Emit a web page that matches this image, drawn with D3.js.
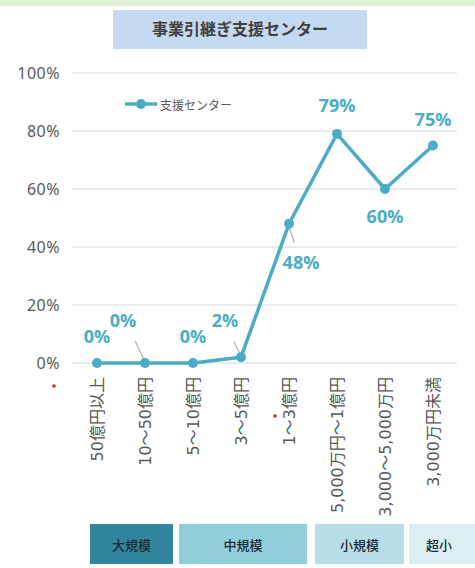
<!DOCTYPE html>
<html>
<head>
<meta charset="utf-8">
<script src="https://cdn.jsdelivr.net/npm/d3@7"></script>
<style>
  body { margin: 0; background: #fff; }
  svg { display: block; font-family: "Noto Sans CJK JP", "Noto Sans", sans-serif; }
</style>
</head>
<body>
<div id="chart"></div>
<script>
// data
let categories = ["50億円以上", "10～50億円", "5～10億円", "3～5億円", "1～3億円",
                  "5,000万円～1億円", "3,000～5,000万円", "3,000万円未満"];
let values = [0, 0, 0, 0.02, 0.48, 0.79, 0.60, 0.75];
let yTicks = [0, 0.2, 0.4, 0.6, 0.8, 1.0];
let seriesName = "支援センター";
let chartTitle = "事業引継ぎ支援センター";

// size groups under the axis
let groups = ["大規模", "中規模", "小規模", "超小"];
let groupColors = ["#31859c", "#92cddc", "#b7dee8", "#daeef3"];

// where each data label sits relative to its point, and whether it gets a leader line
let labelOffset = [
  {dx: 0, dy: -20, leader: false},
  {dx: -22, dy: -36, leader: true},
  {dx: 0, dy: -20, leader: false},
  {dx: -16, dy: -30, leader: true},
  {dx: 12, dy: 45, leader: true},
  {dx: 0, dy: -22, leader: false},
  {dx: 0, dy: 34, leader: false},
  {dx: 0, dy: -20, leader: false}
];

let width = 475,
    height = 568,
    lineColor = "#4bacc6",
    textGray = "#595959";

let svg = d3.select("#chart")
  .append("svg")
  .attr("width", width)
  .attr("height", height);

// light green strip at the very top
svg.append("rect")
  .attr("x", 0).attr("y", 0)
  .attr("width", width).attr("height", 6)
  .attr("fill", "#e2efda");

// title box
svg.append("rect")
  .attr("x", 113).attr("y", 10)
  .attr("width", 254).attr("height", 39)
  .attr("fill", "#c5d9f1");
svg.append("text")
  .attr("x", 240).attr("y", 35)
  .attr("text-anchor", "middle")
  .attr("font-size", 16)
  .attr("font-weight", "bold")
  .attr("fill", "#404040")
  .text(chartTitle);

let x = d3.scalePoint()
  .domain(categories)
  .range([73, 457])
  .padding(0.5);

let y = d3.scaleLinear()
  .domain([0, 1])
  .range([363, 73]);

// gridlines
svg.append("g")
  .selectAll("line")
  .data(yTicks)
  .join("line")
    .attr("x1", 72).attr("x2", 457)
    .attr("y1", d => y(d)).attr("y2", d => y(d))
    .attr("stroke", "#d9d9d9")
    .attr("stroke-width", 1);

// y axis labels
let yAxis = svg.append("g")
  .attr("transform", "translate(60,0)")
  .call(d3.axisLeft(y).tickValues(yTicks).tickFormat(d3.format(".0%")).tickSize(0).tickPadding(0));
yAxis.select(".domain").remove();
yAxis.selectAll("text")
  .attr("font-size", 16)
  .attr("letter-spacing", 0.5)
  .attr("fill", textGray)
  .attr("font-family", "'Noto Sans', sans-serif");

// x axis labels, vertical (DejaVu for the wide digits, CJK falls back)
let xAxis = svg.append("g")
  .attr("transform", "translate(0,377)")
  .call(d3.axisBottom(x).tickSize(0).tickPadding(0));
xAxis.select(".domain").remove();
xAxis.selectAll("text")
  .attr("font-size", 16)
  .attr("fill", textGray)
  .attr("font-family", "'DejaVu Sans', 'Noto Sans CJK JP', sans-serif")
  .attr("text-anchor", "end")
  .attr("dy", null)
  .attr("y", 0)
  .attr("transform", "rotate(-90)")
  .attr("dominant-baseline", "central");

// leader lines
let pts = categories.map((c, i) => ({c, v: values[i], o: labelOffset[i]}));

svg.append("g")
  .selectAll("line")
  .data(pts.filter(d => d.o.leader))
  .join("line")
    .attr("x1", d => x(d.c) - Math.sign(d.o.dx) * 2)
    .attr("y1", d => y(d.v) - Math.sign(d.o.dy) * 3)
    .attr("x2", d => x(d.c) + d.o.dx * 0.45)
    .attr("y2", d => y(d.v) + (d.o.dy > 0 ? d.o.dy - 26 : d.o.dy + 14))
    .attr("stroke", "#b0b0b0")
    .attr("stroke-width", 1.2);

// series line
let line = d3.line()
  .x(d => x(d.c))
  .y(d => y(d.v));

svg.append("path")
  .datum(pts)
  .attr("fill", "none")
  .attr("stroke", lineColor)
  .attr("stroke-width", 3.5)
  .attr("stroke-linejoin", "round")
  .attr("d", line);

svg.append("g")
  .selectAll("circle")
  .data(pts)
  .join("circle")
    .attr("cx", d => x(d.c))
    .attr("cy", d => y(d.v))
    .attr("r", 5)
    .attr("fill", lineColor);

// data labels
svg.append("g")
  .selectAll("text")
  .data(pts)
  .join("text")
    .attr("x", d => x(d.c) + d.o.dx)
    .attr("y", d => y(d.v) + d.o.dy)
    .attr("text-anchor", "middle")
    .attr("font-size", 18)
    .attr("font-weight", "bold")
    .attr("fill", lineColor)
    .attr("font-family", "'Open Sans', 'Noto Sans', sans-serif")
    .text(d => d3.format(".0%")(d.v));

// legend
let legend = svg.append("g").attr("transform", "translate(125,104)");
legend.append("line")
  .attr("x1", 0).attr("x2", 32)
  .attr("stroke", lineColor).attr("stroke-width", 3.5);
legend.append("circle")
  .attr("cx", 16).attr("r", 5).attr("fill", lineColor);
legend.append("text")
  .attr("x", 35).attr("y", 0)
  .attr("dominant-baseline", "central")
  .attr("font-size", 12)
  .attr("fill", textGray)
  .text(seriesName);

// size group boxes
let groupBoxes = [
  {x0: 90, x1: 173},
  {x0: 179, x1: 307},
  {x0: 315, x1: 404},
  {x0: 409, x1: 478}
];
let gBox = svg.append("g")
  .selectAll("g")
  .data(groups)
  .join("g");
gBox.append("rect")
  .attr("x", (d, i) => groupBoxes[i].x0)
  .attr("y", 524)
  .attr("width", (d, i) => groupBoxes[i].x1 - groupBoxes[i].x0)
  .attr("height", 40)
  .attr("fill", (d, i) => groupColors[i]);
gBox.append("text")
  .attr("x", (d, i) => (groupBoxes[i].x0 + Math.min(groupBoxes[i].x1, 469)) / 2)
  .attr("y", 544)
  .attr("text-anchor", "middle")
  .attr("dominant-baseline", "central")
  .attr("font-size", 13)
  .attr("font-weight", 500)
  .attr("fill", "#1a2a36")
  .text(d => d);

// two small red marks seen in the picture
svg.append("g")
  .selectAll("circle")
  .data([[54, 386], [275, 416]])
  .join("circle")
    .attr("cx", d => d[0]).attr("cy", d => d[1])
    .attr("r", 1.8)
    .attr("fill", "#e02020");
</script>
</body>
</html>
